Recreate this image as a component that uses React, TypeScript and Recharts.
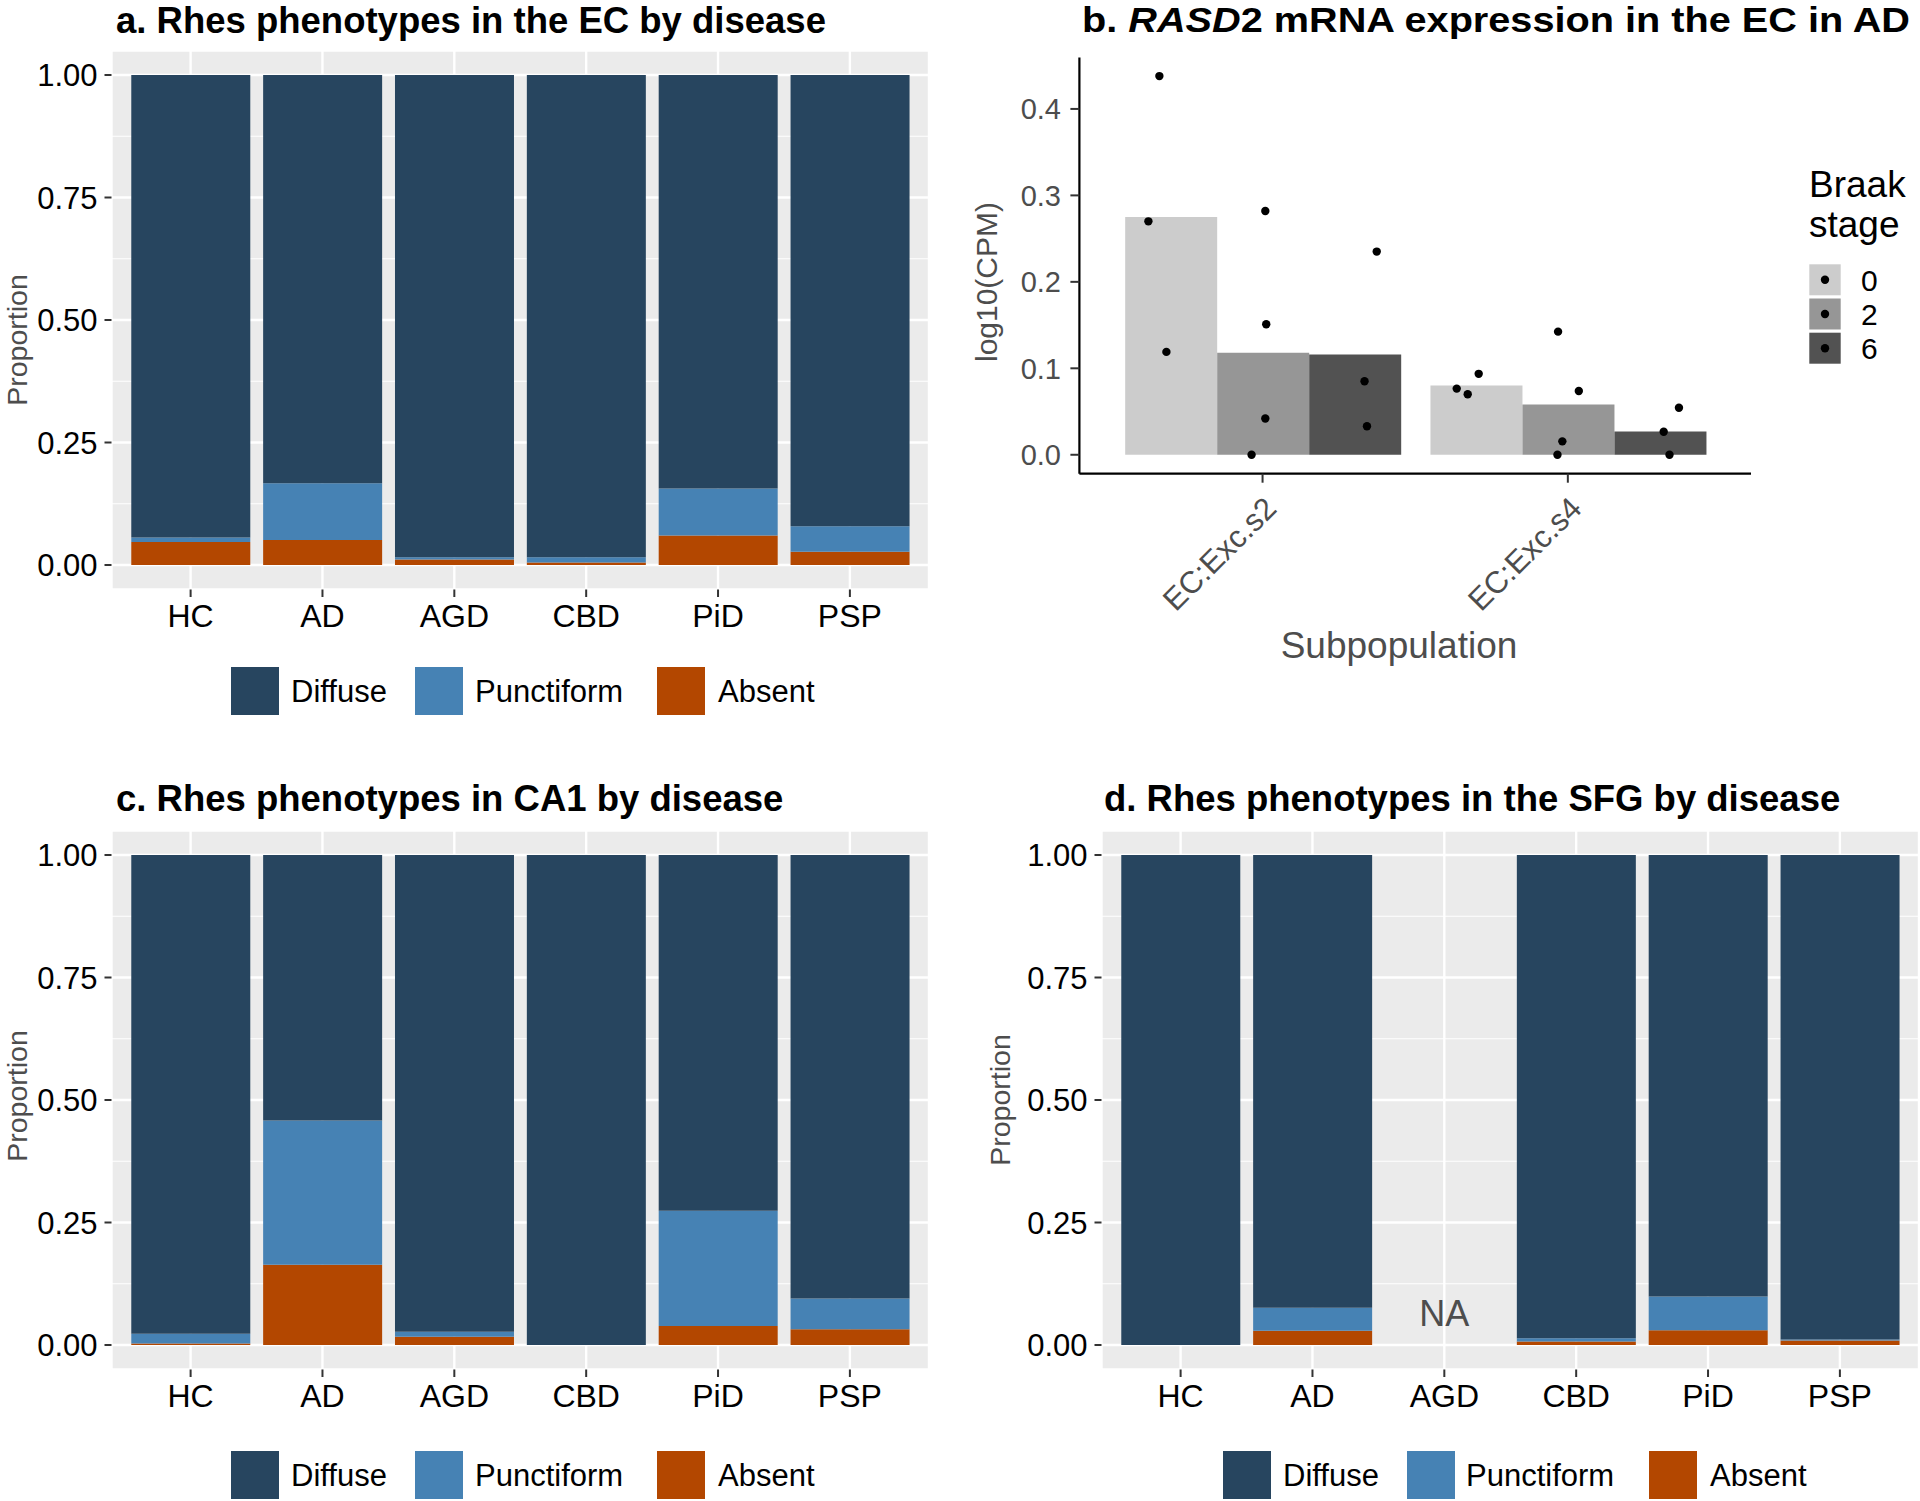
import React from 'react';
import { BarChart, Bar, XAxis, YAxis, CartesianGrid, ComposedChart, Scatter, ReferenceDot } from 'recharts';

const FONT = '"Liberation Sans", Arial, Helvetica, sans-serif';

// ---------- Rhes phenotype panels (a, c, d) ----------
const diseases = ['HC', 'AD', 'AGD', 'CBD', 'PiD', 'PSP'];
const phenotypes = ['Diffuse', 'Punctiform', 'Absent'];
const phenoColors = ['#27455F', '#4682B4', '#B34700'];
const propTicks = [0, 0.25, 0.5, 0.75, 1];
const propMinor = [0.125, 0.375, 0.625, 0.875];

// a. EC
const ecDiffuse = [0.944, 0.833, 0.984, 0.984, 0.844, 0.921];
const ecPunct = [0.009, 0.116, 0.005, 0.011, 0.096, 0.052];
const ecAbsent = [0.047, 0.051, 0.011, 0.005, 0.06, 0.027];

// c. CA1
const ca1Diffuse = [0.977, 0.542, 0.973, 1.0, 0.726, 0.905];
const ca1Punct = [0.02, 0.294, 0.01, 0, 0.235, 0.063];
const ca1Absent = [0.003, 0.164, 0.017, 0, 0.039, 0.032];

// d. SFG (AGD not available)
const sfgDiffuse = [1.0, 0.924, null, 0.986, 0.901, 0.989];
const sfgPunct = [0, 0.047, null, 0.007, 0.069, 0.002];
const sfgAbsent = [0, 0.029, null, 0.007, 0.03, 0.009];
const sfgNaCategory = 'AGD';
const sfgNaLabelY = 0.065;

// ---------- b. RASD2 expression ----------
const subpops = ['EC:Exc.s2', 'EC:Exc.s4'];
const braakStages = ['0', '2', '6'];
const braakColors = ['#CCCCCC', '#969696', '#525252'];
const braak0 = [0.275, 0.08];
const braak2 = [0.118, 0.058];
const braak6 = [0.116, 0.027];
const cpmTicks = [0, 0.1, 0.2, 0.3, 0.4];
// individual subjects: position on the subpopulation axis (1 = s2, 2 = s4, jittered/dodged) and value
const subjPos = [0.626, 0.662, 0.685, 0.964, 1.009, 1.009, 1.012, 1.334, 1.342, 1.374,
  1.636, 1.672, 1.708, 1.966, 1.968, 1.982, 2.036, 2.314, 2.333, 2.364];
const subjVal = [0.27, 0.438, 0.119, 0, 0.282, 0.042, 0.151, 0.085, 0.033, 0.235,
  0.0765, 0.07, 0.0936, 0, 0.1424, 0.0155, 0.0737, 0.0266, 0, 0.0543];

function rows(diffuse: (number | null)[], punct: (number | null)[], absent: (number | null)[]) {
  return diseases.map((c, i) => ({ cat: c, Diffuse: diffuse[i], Punctiform: punct[i], Absent: absent[i] }));
}

const tickLineStyle = { stroke: '#333333', strokeWidth: 2 };

function StackPanel(props: { left: number; top: number; ml: number; mr: number; data: any[]; na?: { cat: string; y: number } }) {
  const { left, top, ml, mr, data, na } = props;
  const W = 960;
  const yW = 100;
  const plotW = W - ml - yW - mr;
  const pad = (plotW * 0.1) / (diseases.length + 0.2);
  return (
    <div style={{ position: 'absolute', left, top }}>
      <BarChart width={W} height={650} data={data} margin={{ top: 50.5, right: mr, left: ml, bottom: 10.5 }} barCategoryGap="5%" barGap={0}>
        <CartesianGrid fill="#EBEBEB" stroke="#FFFFFF" strokeWidth={2.4} />
        <CartesianGrid vertical={false} horizontalValues={propMinor} stroke="#FFFFFF" strokeWidth={1.2} />
        <XAxis dataKey="cat" padding={{ left: pad, right: pad }} height={50} axisLine={false} tickSize={7.5} tickMargin={7}
          tickLine={tickLineStyle} tick={{ fill: '#000000', fontSize: 32 }} interval={0} />
        <YAxis type="number" domain={[-0.05, 1.05]} allowDataOverflow ticks={propTicks} interval={0} width={yW} axisLine={false}
          tickSize={7} tickMargin={7} tickLine={tickLineStyle} tick={{ fill: '#000000', fontSize: 31 }}
          tickFormatter={(v: number) => v.toFixed(2)} />
        <Bar dataKey="Absent" stackId="s" fill={phenoColors[2]} isAnimationActive={false} />
        <Bar dataKey="Punctiform" stackId="s" fill={phenoColors[1]} isAnimationActive={false} />
        <Bar dataKey="Diffuse" stackId="s" fill={phenoColors[0]} isAnimationActive={false} />
        {na ? (
          <ReferenceDot x={na.cat} y={na.y} r={0} ifOverflow="visible"
            shape={(p: any) => (
              <text x={p.cx} y={p.cy} dy="0.36em" textAnchor="middle" fontSize={36} fill="#4D4D4D">NA</text>
            )} />
        ) : null}
      </BarChart>
    </div>
  );
}

function SubpopTick(p: any) {
  const { x, y, payload } = p;
  return (
    <g transform={`translate(${x},${y + 12})`}>
      <text textAnchor="end" transform="rotate(-45)" dy="0.71em" fontSize={31} fill="#4D4D4D">{payload.value}</text>
    </g>
  );
}

function ExprPanel() {
  const data = subpops.map((s, i) => ({ cat: s, b0: braak0[i], b2: braak2[i], b6: braak6[i] }));
  const pts = subjPos.map((x, i) => ({ x, y: subjVal[i] }));
  const W = 960;
  const ml = 39.4, yW = 80, mr = 169;
  const plotW = W - ml - yW - mr;
  const pad = (plotW * 0.1) / (subpops.length + 0.2);
  const keys = ['b0', 'b2', 'b6'];
  return (
    <div style={{ position: 'absolute', left: 960, top: 0 }}>
      <ComposedChart width={W} height={700} data={data} margin={{ top: 57.4, right: mr, left: ml, bottom: 166.3 }} barCategoryGap="5%" barGap={0}>
        <XAxis xAxisId="cat" dataKey="cat" padding={{ left: pad, right: pad }} height={60}
          axisLine={{ stroke: '#000000', strokeWidth: 2.2 }} tickSize={9} tickMargin={0} tickLine={tickLineStyle}
          tick={<SubpopTick />} interval={0} />
        <XAxis xAxisId="num" type="number" dataKey="x" domain={[0.4, 2.6]} allowDataOverflow hide />
        <YAxis type="number" domain={[-0.0219, 0.4596]} allowDataOverflow ticks={cpmTicks} interval={0} width={yW}
          axisLine={{ stroke: '#000000', strokeWidth: 2.2 }} tickSize={9} tickMargin={9.4} tickLine={tickLineStyle}
          tick={{ fill: '#4D4D4D', fontSize: 29 }} tickFormatter={(v: number) => v.toFixed(1)} />
        {keys.map((k, i) => (
          <Bar key={k} xAxisId="cat" dataKey={k} fill={braakColors[i]} isAnimationActive={false} />
        ))}
        <Scatter xAxisId="num" data={pts} dataKey="y" isAnimationActive={false}
          shape={(p: any) => <circle cx={p.cx} cy={p.cy} r={4.2} fill="#000000" />} />
      </ComposedChart>
    </div>
  );
}

function PhenoLegend(props: { keyX: number[]; labelX: number[]; cy: number }) {
  const { keyX, labelX, cy } = props;
  return (
    <g>
      {phenotypes.map((name, i) => (
        <g key={name}>
          <rect x={keyX[i]} y={cy - 24} width={48} height={48} fill={phenoColors[i]} />
          <text x={labelX[i]} y={cy} dy="0.36em" fontSize={31} fill="#000000">{name}</text>
        </g>
      ))}
    </g>
  );
}

function Overlay() {
  const titleStyle = { fontWeight: 700 as const, fontSize: 36.5, fill: '#000000' };
  const axisTitle = { fontSize: 28.5, fill: '#4D4D4D' };
  return (
    <svg width={1920} height={1501} style={{ position: 'absolute', left: 0, top: 0, pointerEvents: 'none' }} fontFamily={FONT}>
      {/* titles */}
      <text x={116} y={33.3} {...titleStyle}>a. Rhes phenotypes in the EC by disease</text>
      <text x={1082} y={32.4} fontWeight={700} fontSize={35.5} fill="#000000" textLength={828} lengthAdjust="spacingAndGlyphs">
        b. <tspan fontStyle="italic">RASD</tspan>2 mRNA expression in the EC in AD
      </text>
      <text x={116} y={810.5} {...titleStyle}>c. Rhes phenotypes in CA1 by disease</text>
      <text x={1104} y={810.5} {...titleStyle}>d. Rhes phenotypes in the SFG by disease</text>

      {/* axis titles */}
      <text transform="translate(26.5,340) rotate(-90)" textAnchor="middle" {...axisTitle}>Proportion</text>
      <text transform="translate(26.5,1096) rotate(-90)" textAnchor="middle" {...axisTitle}>Proportion</text>
      <text transform="translate(1010,1100) rotate(-90)" textAnchor="middle" {...axisTitle}>Proportion</text>
      <text transform="translate(997,282) rotate(-90)" textAnchor="middle" fontSize={30} fill="#4D4D4D">log10(CPM)</text>
      <text x={1399} y={658} textAnchor="middle" fontSize={37} fill="#4D4D4D">Subpopulation</text>

      {/* legends a, c, d */}
      <PhenoLegend keyX={[231, 415, 657]} labelX={[291, 475, 718]} cy={691} />
      <PhenoLegend keyX={[231, 415, 657]} labelX={[291, 475, 718]} cy={1475} />
      <PhenoLegend keyX={[1223, 1407, 1649]} labelX={[1283, 1466, 1710]} cy={1475} />

      {/* legend b */}
      <text x={1809} y={197} fontSize={37} fill="#000000">Braak</text>
      <text x={1809} y={237} fontSize={37} fill="#000000">stage</text>
      {braakStages.map((s, i) => (
        <g key={s}>
          <rect x={1809.3} y={264.3 + i * 34.2} width={31.4} height={31} fill={braakColors[i]} />
          <circle cx={1825} cy={279.8 + i * 34.2} r={4.2} fill="#000000" />
          <text x={1861} y={279.8 + i * 34.2} dy="0.36em" fontSize={30} fill="#000000">{s}</text>
        </g>
      ))}
    </svg>
  );
}

export default function App() {
  return (
    <div style={{ position: 'absolute', left: 0, top: 0, width: 1920, height: 1501, background: '#FFFFFF', fontFamily: FONT, overflow: 'hidden' }}>
      <StackPanel left={0} top={0} ml={11.5} mr={31} data={rows(ecDiffuse, ecPunct, ecAbsent)} />
      <ExprPanel />
      <StackPanel left={0} top={780} ml={11.5} mr={31} data={rows(ca1Diffuse, ca1Punct, ca1Absent)} />
      <StackPanel left={960} top={780} ml={41.5} mr={1} data={rows(sfgDiffuse, sfgPunct, sfgAbsent)}
        na={{ cat: sfgNaCategory, y: sfgNaLabelY }} />
      <Overlay />
    </div>
  );
}
